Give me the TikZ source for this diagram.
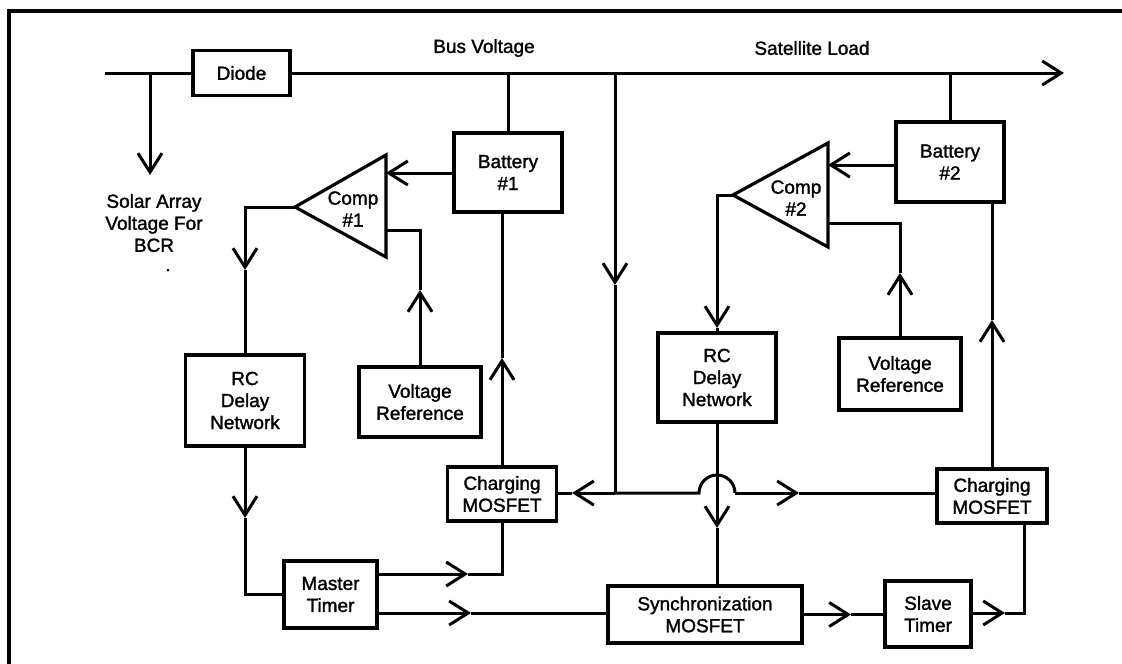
\documentclass[tikz,border=0pt]{standalone}
\usepackage{fontspec}
\newfontfamily\labfont{Liberation Sans}[FakeBold=1.5]
\usetikzlibrary{arrows.meta}
\begin{document}
\begin{tikzpicture}[x=1pt,y=-1pt,
  every node/.style={font=\labfont\fontsize{19}{22}\selectfont, align=center},
  box/.style={draw, line width=3.2pt, inner sep=0pt},
  ln/.style={line width=3pt},
  arr/.style={-{Straight Barb[length=19pt,width=24pt]}}]
\useasboundingbox (0,0) rectangle (1122,664);
% frame
\coordinate (fb) at (9,664); \coordinate (fc) at (9,11); \coordinate (fr) at (1122,11);
\draw[line width=3.5pt] (fb) -- (fc) -- (fr);
% boxes
\node[box, minimum width=97pt, minimum height=45pt] (diode) at (241.5,73) {Diode};
\node[box, minimum width=108pt, minimum height=79pt] (bat1) at (508,172.5) {Battery\\\#1};
\node[box, minimum width=108pt, minimum height=80pt] (bat2) at (950,162) {Battery\\\#2};
\node[box, minimum width=119pt, minimum height=91pt] (rc1) at (245,400.5) {RC\\Delay\\Network};
\node[box, minimum width=122pt, minimum height=70pt] (vr1) at (420,402) {Voltage\\Reference};
\node[box, minimum width=118pt, minimum height=89pt] (rc2) at (717,377.5) {RC\\Delay\\Network};
\node[box, minimum width=122pt, minimum height=72pt] (vr2) at (900,374) {Voltage\\Reference};
\node[box, minimum width=109pt, minimum height=54pt] (cm1) at (502,494) {Charging\\MOSFET};
\node[box, minimum width=110pt, minimum height=54pt] (cm2) at (992,496) {Charging\\MOSFET};
\node[box, minimum width=93pt, minimum height=67pt] (mt) at (330.5,594.5) {Master\\Timer};
\node[box, minimum width=194pt, minimum height=57pt] (sync) at (705,614.5) {Synchronization\\MOSFET};
\node[box, minimum width=86pt, minimum height=66pt] (slave) at (928,614) {Slave\\Timer};
% labels
\node (busv) at (484,48) {Bus Voltage};
\node (satl) at (812,48) {Satellite Load};
\node (solar) at (154,223) {Solar Array\\Voltage For\\BCR};
\fill (168,270) circle[radius=1.5pt];
% comparators
\coordinate (c1a) at (295,207); \coordinate (c1t) at (386,155); \coordinate (c1b) at (386,257);
\draw[line width=3.2pt, line join=miter] (c1a) -- (c1t) -- (c1b) -- cycle;
\node (c1) at (353,209) {Comp\\\#1};
\coordinate (c2a) at (733,195); \coordinate (c2t) at (828,143); \coordinate (c2b) at (828,247);
\draw[line width=3.2pt, line join=miter] (c2a) -- (c2t) -- (c2b) -- cycle;
\node (c2) at (796,198) {Comp\\\#2};
% bus
\coordinate (busL) at (105,73); \coordinate (busR) at (1064,73);
\draw[ln] (busL) -- (diode.west);
\draw[ln,arr] (diode.east) -- (busR);
\coordinate (sTop) at (150,73); \coordinate (sTip) at (150,175);
\draw[ln,arr] (sTop) -- (sTip);
\draw[ln] (bat1.north) -- (bat1.north |- busL);
\draw[ln] (bat2.north) -- (bat2.north |- busL);
% comp 1 connections
\coordinate (c1in) at (386,173); \coordinate (c1ref) at (386,230);
\draw[ln,arr] (bat1.west |- c1in) -- (c1in);
\coordinate (c1o) at (245,207); \coordinate (rc1tip) at (245,270);
\draw[ln,arr] (c1a) -- (c1o) -- (rc1tip);
\draw[ln] (rc1tip) -- (rc1.north);
\coordinate (vr1tip) at (420,290);
\draw[ln,arr] (vr1.north) -- (vr1tip);
\draw[ln] (vr1tip) |- (c1ref);
\coordinate (b1tip) at (502,358);
\draw[ln,arr] (cm1.north) -- (b1tip);
\draw[ln] (b1tip) -- (b1tip |- bat1.south);
% rc1 -> master timer
\coordinate (mtTip) at (245,518);
\draw[ln,arr] (rc1.south) -- (mtTip);
\draw[ln] (mtTip) |- (mt.west);
% master timer outputs
\coordinate (mtuTip) at (468,574);
\draw[ln,arr] (mt.east |- mtuTip) -- (mtuTip);
\draw[ln] (mtuTip) -| (cm1.south);
\coordinate (mtlTip) at (471,613);
\draw[ln,arr] (mt.east |- mtlTip) -- (mtlTip);
\draw[ln] (mtlTip) -- (sync.west |- mtlTip);
% sync -> slave
\coordinate (ssTip) at (851,614.5);
\draw[ln,arr] (sync.east) -- (ssTip);
\draw[ln] (ssTip) -- (slave.west |- ssTip);
% slave -> cm2
\coordinate (slTip) at (1005,613); \coordinate (slC) at (1024,613);
\draw[ln,arr] (slave.east |- slTip) -- (slTip);
\draw[ln] (slTip) -- (slC) -- (slC |- cm2.south);
% bus vertical feed
\coordinate (vTop) at (615,73); \coordinate (vTip) at (615,285); \coordinate (junc) at (615,493);
\draw[ln,arr] (vTop) -- (vTip);
\draw[ln] (vTip) -- (junc);
\coordinate (lTip) at (572,493);
\draw[ln,arr] (junc) -- (lTip);
\draw[ln] (lTip) -- (cm1.east |- lTip);
\coordinate (hump1) at (699,493); \coordinate (hump2) at (735,493); \coordinate (rTip) at (799,493);
\draw[ln] (junc) -- (hump1) arc[start angle=180, end angle=0, radius=18pt];
\draw[ln,arr] (hump2) -- (rTip);
\draw[ln] (rTip) -- (cm2.west |- rTip);
% rc2 -> sync
\coordinate (rc2Tip) at (717,528);
\draw[ln,arr] (rc2.south) -- (rc2Tip);
\draw[ln] (rc2Tip) -- (rc2Tip |- sync.north);
% comp 2 connections
\coordinate (c2in) at (828,165); \coordinate (c2ref) at (828,223);
\draw[ln,arr] (bat2.west |- c2in) -- (c2in);
\coordinate (c2o) at (717,195); \coordinate (rc2in) at (717,328);
\draw[ln,arr] (c2a) -- (c2o) -- (rc2in);
\draw[ln] (rc2in) -- (rc2.north);
\coordinate (vr2tip) at (900,273);
\draw[ln,arr] (vr2.north) -- (vr2tip);
\draw[ln] (vr2tip) |- (c2ref);
\coordinate (b2tip) at (992,320);
\draw[ln,arr] (cm2.north) -- (b2tip);
\draw[ln] (b2tip) -- (b2tip |- bat2.south);
\end{tikzpicture}
\end{document}
